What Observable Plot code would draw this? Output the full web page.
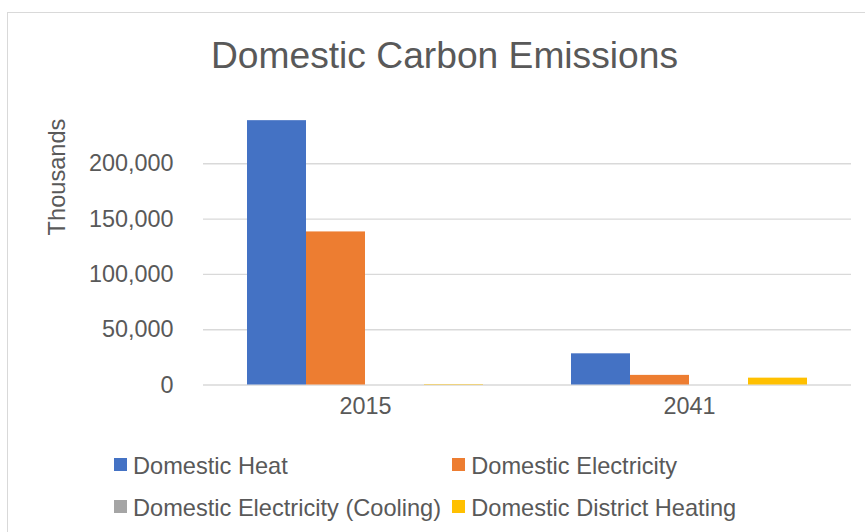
<!DOCTYPE html>
<html>
<head>
<meta charset="utf-8">
<script src="https://cdn.jsdelivr.net/npm/d3@7"></script>
<script src="https://cdn.jsdelivr.net/npm/@observablehq/plot@0.6"></script>
<style>
  html, body { margin: 0; padding: 0; background: #fff; }
  #wrap { position: relative; width: 865px; height: 532px; overflow: hidden; font-family: "Liberation Sans", Arial, sans-serif; color: #595959; }
  #frame { position: absolute; left: 7px; top: 12px; width: 900px; height: 600px; border: 1px solid #d9d9d9; box-sizing: border-box; }
  #title { position: absolute; left: 0; width: 889px; top: 37px; text-align: center; font-size: 37.2px; line-height: 37px; }
  #ylabel { position: absolute; left: 57px; top: 177px; font-size: 23.6px; line-height: 24px; transform: translate(-50%, -50%) rotate(-90deg); white-space: nowrap; }
  #chart { position: absolute; left: 0; top: 0; }
  .leg { position: absolute; font-size: 23.6px; line-height: 24px; white-space: nowrap; }
  .sw { position: absolute; width: 12.7px; height: 12.7px; }
</style>
</head>
<body>
<div id="wrap">
  <div id="frame"></div>
  <div id="chart"></div>
  <div id="title">Domestic Carbon Emissions</div>
  <div id="ylabel">Thousands</div>
  <div id="legend"></div>
</div>
<script>
const years = ["2015", "2041"];
const seriesNames = ["Domestic Heat", "Domestic Electricity", "Domestic Electricity (Cooling)", "Domestic District Heating"];
const seriesColors = ["#4472C4", "#ED7D31", "#A5A5A5", "#FFC000"];
const heat = [239000, 28200];
const electricity = [138400, 8700];
const cooling = [0, 0];
const districtHeating = [400, 6200];
const yTicks = [0, 50000, 100000, 150000, 200000];

const valuesBySeries = [heat, electricity, cooling, districtHeating];
const data = [];
years.forEach((yr, i) => {
  seriesNames.forEach((s, j) => data.push({year: yr, series: s, value: valuesBySeries[j][i]}));
});

const chart = Plot.plot({
  width: 865,
  height: 450,
  marginTop: 108,
  marginBottom: 65.5,
  marginLeft: 202,
  marginRight: 14,
  style: {fontFamily: "Liberation Sans, Arial, sans-serif", fontSize: "23.4px", color: "#595959", background: "transparent"},
  fx: {domain: years, padding: 0, paddingOuter: 0, label: null},
  x: {domain: seriesNames, paddingInner: 0, paddingOuter: 0.737, axis: null},
  y: {domain: [0, 250000], axis: null},
  color: {domain: seriesNames, range: seriesColors},
  marks: [
    Plot.ruleY(yTicks, {y: d => d, stroke: "#d9d9d9", strokeWidth: 1.4}),
    Plot.barY(data, {fx: "year", x: "series", y: "value", fill: "series", inset: 0}),
    Plot.axisY({ticks: yTicks, tickSize: 0, tickPadding: 30, tickFormat: d3.format(","), label: null, fill: "#595959", fontSize: 23.4}),
    Plot.axisFx({anchor: "bottom", tickSize: 0, tickPadding: 12, label: null, fill: "#595959", fontSize: 23.4})
  ]
});
document.getElementById("chart").appendChild(chart);

const legend = document.getElementById("legend");
const legPos = [[114, 458, 453.8], [452.3, 458, 453.8], [114, 500.3, 496.3], [452.3, 500.3, 496.3]];
seriesNames.forEach((s, j) => {
  const [lx, sy, ty] = legPos[j];
  const sw = document.createElement("div");
  sw.className = "sw";
  sw.style.left = lx + "px";
  sw.style.top = sy + "px";
  sw.style.background = seriesColors[j];
  legend.appendChild(sw);
  const t = document.createElement("div");
  t.className = "leg";
  t.style.left = (lx + 19) + "px";
  t.style.top = ty + "px";
  t.textContent = s;
  legend.appendChild(t);
});
</script>
</body>
</html>
